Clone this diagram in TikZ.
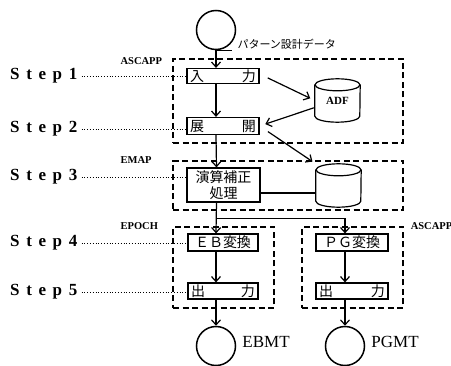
\documentclass[tikz,border=0pt]{standalone}
\usepackage{fontspec}
\setmainfont{Liberation Serif}
\newfontfamily\jpfont{Noto Sans CJK JP}
\newfontfamily\stepfont[LetterSpace=39]{Liberation Serif}
\usetikzlibrary{
  arrows.meta,
  positioning
}
\tikzset{
  procbox/.style={
    draw, line width=1.2pt, inner sep=0pt, minimum width=72pt, minimum height=16pt,
    font=\jpfont\fontsize{14}{16}\selectfont, align=center
  },
  zone/.style={draw, line width=1.2pt, dash pattern=on 6pt off 3.5pt, inner sep=0pt},
  zonelbl/.style={font=\fontsize{10.5}{10.5}\selectfont\bfseries, inner sep=0pt, anchor=west},
  tape/.style={draw, circle, line width=1.5pt, minimum size=39pt, inner sep=0pt},
  tapelbl/.style={font=\fontsize{17}{17}\selectfont, inner sep=0pt},
  store/.style={
    inner sep=0pt, minimum width=45pt, minimum height=43pt,
    font=\fontsize{11}{11}\selectfont\bfseries
  },
  steplbl/.style={font=\stepfont\fontsize{17}{17}\selectfont\bfseries, inner sep=0pt, anchor=west},
  guide/.style={dotted, line width=0.8pt},
  flow/.style={-{Straight Barb[length=5pt, width=9pt, line width=1.2pt]}, line width=1.2pt},
  link/.style={line width=1.2pt},
  rim/.style={x radius=22.5pt, y radius=6pt}
}

\begin{document}
\begin{tikzpicture}[x=1pt, y=-1pt]
  \useasboundingbox (0,0) rectangle (451,366);
  % dashed program groups
  \node[zone, minimum width=230, minimum height=84] (gasc) at (288,101) {};
  \node[zone, minimum width=230, minimum height=49] (gemap) at (288,185.5) {};
  \node[zone, minimum width=101, minimum height=81] (gepo) at (223.5,267.5) {};
  \node[zone, minimum width=101, minimum height=81] (gpg) at (352.5,267.5) {};
  \node[zonelbl] (lasc) at ([xshift=-52pt, yshift=-3pt]gasc.north west) {ASCAPP};
  \node[zonelbl] (lemap) at ([xshift=-52pt]gemap.north west) {EMAP};
  \node[zonelbl] (lepo) at ([xshift=-52pt]gepo.north west) {EPOCH};
  \node[zonelbl] (lpg) at ([xshift=7pt]gpg.north east) {ASCAPP};
  % process steps
  \node[procbox, minimum height=15] (inp) at (223,76) {\hbox to 66pt{入\hfill 力}};
  \node[procbox, minimum height=17] (dev) at (223,126) {\hbox to 66pt{展\hfill 開}};
  \node[procbox, minimum width=73, minimum height=34] (cal) at (223.5,185) {演算補正\\処理};
  \node[procbox, minimum width=70, minimum height=17] (eb) at (223,242.5) {ＥＢ変換};
  \node[procbox, minimum width=70] (out1) at (223,291) {\hbox to 64pt{出\hfill 力}};
  \node[procbox, minimum height=17] (pg) at (352,242.5) {ＰＧ変換};
  \node[procbox] (out2) at (352,291) {\hbox to 66pt{出\hfill 力}};
  % files
  \node[store] (adf) at (337.5,100.5) {\raisebox{-5pt}{ADF}};
  \node[store] (db) at (338.5,185.5) {};
  \foreach \f in {adf, db} {
    \draw[link] ([yshift=-6pt]\f.north) ellipse [rim];
    \draw[link] ([yshift=-6pt]\f.north west) -- ([yshift=6pt]\f.south west)
      arc [start angle=180, end angle=360, rim] -- ([yshift=-6pt]\f.north east);
  }
  % tapes
  \node[tape] (src) at (216,30) {};
  \node[tape] (ebt) at (216,346) {};
  \node[tape] (pgt) at (345,346) {};
  \draw[link] (src.south) -- ++(16,0);
  \draw[link] (ebt.south) -- ++(16,0);
  \draw[link] (pgt.south) -- ++(16,0);
  \node[tapelbl, font=\jpfont\fontsize{11}{12}\selectfont, right=7pt of src.south east] (srcl) {パターン設計データ};
  \node[tapelbl, right=6pt of ebt.east, yshift=4pt] (ebl) {EBMT};
  \node[tapelbl, right=6pt of pgt.east, yshift=4pt] (pgl) {PGMT};
  % step labels
  \node[steplbl] (s1) at (10,76) {Step1};
  \node[steplbl] (s2) at (10,129) {Step2};
  \node[steplbl] (s3) at (10,177) {Step3};
  \node[steplbl] (s4) at (10,243) {Step4};
  \node[steplbl] (s5) at (10,292) {Step5};
  \draw[guide] ([xshift=4pt]s1.east) -- (s1.east -| inp.west);
  \draw[guide] ([xshift=4pt]s2.east) -- (s2.east -| dev.west);
  \draw[guide] ([xshift=4pt]s3.east) -- (s3.east -| cal.west);
  \draw[guide] ([xshift=4pt]s4.east) -- (s4.east -| eb.west);
  \draw[guide] ([xshift=4pt]s5.east) -- (s5.east -| out1.west);
  % main flow
  \draw[flow] (src.south) -- (src.south |- inp.north);
  \draw[flow] ([xshift=-7pt]inp.south) -- ([xshift=-7pt]dev.north);
  \draw[flow] ([xshift=-7pt]dev.south) -- ([xshift=-7pt]cal.north);
  \draw[flow] ([xshift=-7pt]cal.south) -- ([xshift=-7pt]eb.north);
  \coordinate (br) at ([xshift=-7pt, yshift=-16pt]cal.south);
  \draw[flow] (br) -| ([xshift=-7pt]pg.north);
  \draw[flow] ([xshift=-7pt]eb.south) -- ([xshift=-7pt]out1.north);
  \draw[flow] ([xshift=-7pt]pg.south) -- ([xshift=-7pt]out2.north);
  \draw[flow] ([xshift=-7pt]out1.south) -- (ebt.north);
  \draw[flow] ([xshift=-7pt]out2.south) -- (pgt.north);
  % file access
  \draw[flow, shorten <=9pt, shorten >=5pt] ([yshift=2pt]inp.east) -- (adf.west);
  \draw[flow, shorten <=1pt, shorten >=6pt] ([yshift=-7pt]adf.west) -- (dev.east);
  \draw[flow, shorten <=10pt, shorten >=4pt] (dev.east) -- (db.north west);
  \draw[link] ([yshift=-8pt]cal.east) -- ([yshift=-8pt]cal.east -| db.west);
\end{tikzpicture}
\end{document}
